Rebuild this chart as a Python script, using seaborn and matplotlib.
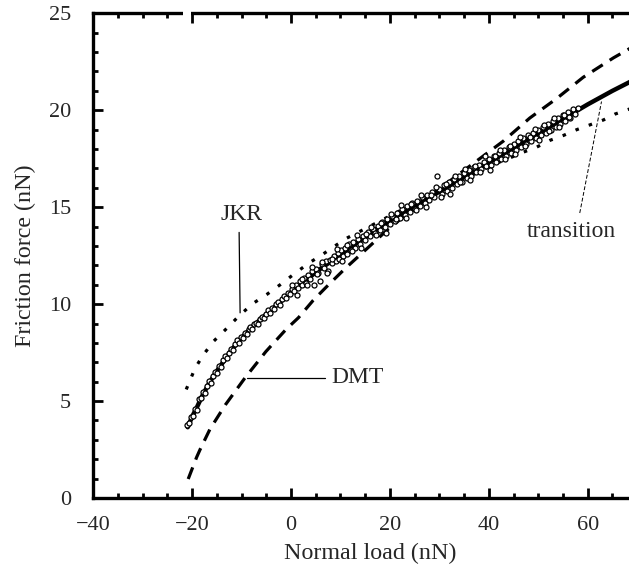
# Friction force vs normal load: data with transition fit, JKR and DMT curves
import numpy as np
import pandas as pd
import seaborn as sns
import matplotlib.pyplot as plt
from matplotlib.ticker import MultipleLocator
from matplotlib.patches import Rectangle
import matplotlib.transforms as mtransforms

pts_x = [-21.0, -20.6, -20.2, -19.8, -19.4, -19.0, -18.6, -18.2, -17.8, -17.4,
         -17.0, -16.6, -16.2, -15.8, -15.4, -15.0, -14.6, -14.2, -13.8, -13.4,
         -13.0, -12.6, -12.2, -11.8, -11.4, -11.0, -10.6, -10.2, -9.8, -9.4,
         -9.0, -8.6, -8.2, -7.8, -7.4, -7.0, -6.6, -6.2, -5.8, -5.4,
         -5.0, -4.6, -4.2, -3.8, -3.4, -3.0, -2.6, -2.2, -1.8, -1.4,
         -1.0, -0.6, -0.2, 0.2, 0.6, 1.0, 1.4, 1.8, 2.2, 2.6,
         3.0, 3.4, 3.8, 4.2, 4.6, 5.0, 5.4, 5.8, 6.2, 6.6,
         7.0, 7.4, 7.8, 8.2, 8.6, 9.0, 9.4, 9.8, 10.2, 10.6,
         11.0, 11.4, 11.8, 12.2, 12.6, 13.0, 13.5, 14.0, 14.5, 15.0,
         15.5, 16.0, 16.5, 17.0, 17.5, 18.0, 18.5, 19.0, 19.5, 20.0,
         20.5, 21.0, 21.5, 22.0, 22.5, 23.0, 23.5, 24.0, 24.5, 25.0,
         25.5, 26.0, 26.5, 27.0, 27.5, 28.0, 28.5, 29.0, 29.5, 30.0,
         30.5, 31.0, 31.5, 32.0, 32.5, 33.0, 33.5, 34.0, 34.5, 35.0,
         35.5, 36.0, 36.5, 37.0, 37.5, 38.0, 38.5, 39.0, 39.5, 40.0,
         40.5, 41.0, 41.5, 42.0, 42.5, 43.0, 43.5, 44.0, 44.5, 45.0,
         45.5, 46.0, 46.5, 47.0, 47.5, 48.0, 48.5, 49.0, 49.5, 50.0,
         50.5, 51.0, 51.5, 52.0, 52.5, 53.0, 53.5, 54.0, 54.5, 55.0,
         55.5, 56.0, 56.5, 57.0, 57.5, 58.0]
pts_y = [3.75, 3.85, 4.2, 4.25, 4.6, 4.55, 5.1, 5.15, 5.45, 5.4,
         5.8, 6.05, 5.95, 6.3, 6.5, 6.45, 6.8, 6.75, 7.1, 7.3,
         7.2, 7.5, 7.7, 7.65, 7.95, 8.15, 8.0, 8.3, 8.25, 8.5,
         8.45, 8.7, 8.8, 8.7, 9.0, 9.05, 9.0, 9.25, 9.35, 9.3,
         9.5, 9.7, 9.55, 9.8, 9.75, 10.0, 10.1, 9.95, 10.25, 10.4,
         10.3, 10.55, 10.5, 10.8, 10.7, 11.0, 10.85, 11.2, 11.0, 11.35,
         11.1, 11.5, 11.3, 11.7, 11.0, 11.8, 11.6, 11.2, 12.05, 11.85,
         12.2, 11.7, 12.3, 12.1, 12.5, 12.2, 12.65, 12.35, 12.8, 12.5,
         12.9, 12.6, 13.1, 12.8, 13.2, 12.9, 13.35, 13.1, 13.5, 13.3,
         13.7, 13.5, 13.9, 13.65, 14.05, 13.8, 14.25, 14.0, 14.4, 14.15,
         14.55, 14.3, 14.7, 14.45, 14.9, 14.6, 15.05, 14.75, 15.2, 14.9,
         15.3, 15.05, 15.5, 15.2, 15.65, 15.35, 15.8, 15.5, 16.6, 15.95,
         15.7, 16.15, 15.85, 16.3, 16.0, 16.45, 16.2, 16.6, 16.3, 16.75,
         16.5, 16.9, 16.6, 17.05, 16.8, 17.2, 16.95, 17.35, 17.1, 17.5,
         17.2, 17.65, 17.35, 17.8, 17.5, 17.95, 17.65, 18.1, 17.8, 18.25,
         17.95, 18.4, 18.1, 18.55, 18.25, 18.7, 18.4, 18.85, 18.55, 19.0,
         18.7, 19.15, 18.85, 19.3, 19.0, 19.45, 19.15, 19.6, 19.3, 19.75,
         19.45, 19.9, 19.6, 20.05, 19.8, 20.1]

# second sweep (wider scatter in the middle)
pts2_x = [0.25, 1.25, 2.25, 3.25, 4.25, 5.25, 6.25, 7.25, 8.25, 9.25,
          10.25, 11.25, 12.25, 13.25, 14.25, 15.25, 16.25, 17.25, 18.25, 19.25,
          20.25, 21.25, 22.25, 23.25, 24.25, 25.25, 26.25, 27.25, 28.25, 29.25,
          30.25, 31.25, 32.25, 33.25, 34.25, 35.25, 36.25, 37.25, 38.25, 39.25,
          40.25, 41.25, 42.25, 43.25, 44.25, 45.25, 46.25, 47.25, 48.25, 49.25,
          50.25, 51.25, 52.25, 53.25, 54.25, 55.25, 56.25]
pts2_y = [10.99, 10.49, 11.29, 10.99, 11.94, 11.54, 12.19, 11.59, 12.34, 12.84,
          12.24, 13.04, 12.74, 13.54, 12.89, 13.64, 13.99, 13.54, 14.19, 13.69,
          14.64, 14.39, 15.09, 14.44, 15.19, 14.84, 15.64, 14.99, 15.64, 16.04,
          15.54, 16.19, 15.69, 16.59, 16.29, 16.99, 16.39, 17.14, 16.84, 17.64,
          16.94, 17.64, 17.94, 17.49, 18.14, 17.74, 18.64, 18.14, 18.64, 19.04,
          18.44, 19.24, 18.94, 19.59, 19.14, 19.74, 19.64]

# transition fit (solid)
fit_x = [-20.9, -20.0, -19.0, -18.0, -16.5, -15.0, -13.5, -12.0, -10.0, -8.0,
         -6.0, -4.0, -2.0, 0.0, 2.5, 5.0, 7.5, 10.0, 12.5, 15.0, 17.5, 20.0,
         25.0, 30.0, 35.0, 40.0, 45.0, 50.0, 55.0, 60.0, 65.0, 70.0]
fit_y = [3.65, 4.2, 4.7, 5.25, 5.95, 6.55, 7.1, 7.65, 8.25, 8.8,
         9.25, 9.7, 10.15, 10.6, 11.1, 11.65, 12.1, 12.55, 13.0, 13.45, 13.9, 14.3,
         15.05, 15.8, 16.55, 17.3, 18.05, 18.8, 19.55, 20.3, 21.0, 21.65]

# JKR (dotted)
jkr_x = [-21.2, -19.4, -17.7, -15.6, -13.0, -10.3, -7.6, -4.9, -2.2, 0.6,
         3.5, 6.3, 8.7, 11.25, 14.3, 20.0, 25.0, 30.0, 35.0, 40.9,
         43.9, 46.6, 49.7, 52.4, 55.1, 57.8, 60.5, 63.2, 65.5, 70.0]
jkr_y = [5.6, 6.7, 7.4, 8.1, 8.75, 9.45, 10.05, 10.5, 11.0, 11.55,
         12.1, 12.55, 12.97, 13.4, 13.8, 14.55, 15.2, 15.85, 16.45, 17.2,
         17.5, 17.8, 18.1, 18.45, 18.7, 19.0, 19.25, 19.5, 19.8, 20.2]

# DMT (dashed)
dmt_x = [-20.8, -19.1, -18.4, -16.4, -13.3, -9.3, -5.1, -1.0, 1.5, 4.5,
         7.2, 11.0, 15.3, 20.0, 25.0, 30.0, 35.0, 40.0, 42.9, 48.3,
         53.7, 59.1, 65.2, 70.0]
dmt_y = [0.98, 2.1, 2.5, 3.55, 4.8, 6.2, 7.55, 8.7, 9.3, 10.2,
         10.9, 11.85, 12.85, 13.95, 14.95, 15.95, 16.9, 17.85, 18.4, 19.6,
         20.6, 21.7, 22.7, 23.4]

# labels and their leader lines
labels = ['JKR', 'DMT', 'transition']
label_x = [-10.1, 13.5, 56.8]
label_y = [14.6, 6.2, 13.75]
jkr_lead_x, jkr_lead_y = [-10.5, -10.3], [13.7, 9.55]
dmt_lead_x, dmt_lead_y = [-9.0, 6.9], [6.2, 6.2]
tr_lead_x, tr_lead_y = [58.4, 62.8], [14.7, 20.45]

sns.set_style('ticks')
plt.rcParams['font.family'] = 'serif'
plt.rcParams['font.serif'] = ['Liberation Serif', 'DejaVu Serif']
plt.rcParams['axes.unicode_minus'] = True

fig = plt.figure(figsize=(6.29, 5.76), dpi=100)
ax = fig.add_axes([0.1483, 0.1354, 0.8803, 0.8415])

sns.lineplot(x=fit_x, y=fit_y, color='black', linewidth=3.2, ax=ax,
             estimator=None, sort=False, zorder=2)
sns.lineplot(x=jkr_x, y=jkr_y, color='black', linewidth=2.3, ax=ax,
             estimator=None, sort=False, linestyle=(0, (1.1, 3.3)), zorder=2)
sns.lineplot(x=dmt_x, y=dmt_y, color='black', linewidth=2.3, ax=ax,
             estimator=None, sort=False, linestyle=(0, (3.9, 2.6)), zorder=2)
sns.scatterplot(x=pts_x + pts2_x, y=pts_y + pts2_y, marker='o', s=13,
                facecolor='white', edgecolor='black', linewidth=0.9,
                ax=ax, zorder=3)

# leader lines
ax.plot(jkr_lead_x, jkr_lead_y, color='black', lw=0.9)
ax.plot(dmt_lead_x, dmt_lead_y, color='black', lw=0.9)
ax.plot(tr_lead_x, tr_lead_y, color='black', lw=0.7, ls=(0, (4, 2)))
for t, lx, ly in zip(labels, label_x, label_y):
    ax.text(lx, ly, t, fontsize=17, ha='center', va='center')

ax.set_xlim(-40, 72)
ax.set_ylim(0, 25)
ax.xaxis.set_major_locator(MultipleLocator(20))
ax.xaxis.set_minor_locator(MultipleLocator(5))
ax.yaxis.set_major_locator(MultipleLocator(5))
ax.yaxis.set_minor_locator(MultipleLocator(1))
ax.tick_params(which='both', direction='in', top=True, right=False,
               width=2.0, color='black', labelsize=16)
ax.tick_params(which='major', length=7.5)
ax.tick_params(which='minor', length=3.3)
ax.tick_params(axis='x', pad=13)
ax.tick_params(axis='y', pad=16)
for s in ['left', 'bottom', 'top']:
    ax.spines[s].set_linewidth(2.4)
    ax.spines[s].set_color('black')
ax.spines['right'].set_visible(False)

ax.set_xlabel('Normal load (nN)', fontsize=17.3)
ax.set_ylabel('Friction force (nN)', fontsize=17.3)
ax.xaxis.set_label_coords(0.5, -0.092)
ax.yaxis.set_label_coords(-0.104, 0.5)

# small break in the top frame
trans = mtransforms.blended_transform_factory(ax.transData, ax.transAxes)
ax.add_patch(Rectangle((-21.8, 0.98), 1.5, 0.04, transform=trans,
                       facecolor='white', edgecolor='none', zorder=5, clip_on=False))

plt.savefig('out.png', dpi=100)
